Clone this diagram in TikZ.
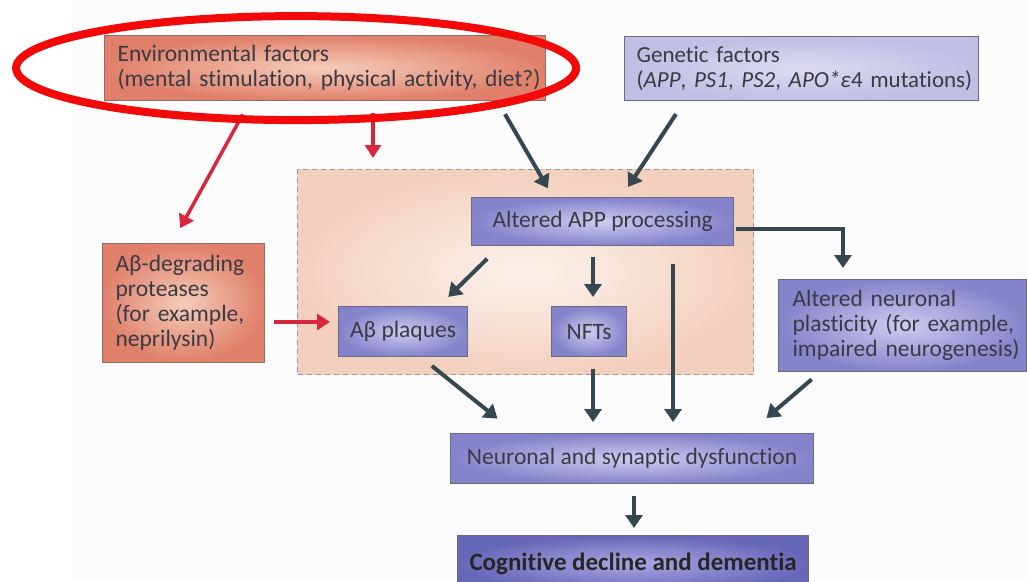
\documentclass[tikz,border=0pt]{standalone}
\usepackage{fontspec}
\setmainfont{Carlito}[Ligatures=NoCommon]
\usetikzlibrary{arrows.meta,calc}
\definecolor{txt}{HTML}{3A3A44}
\definecolor{boxline}{HTML}{6A6A80}
\definecolor{salline}{HTML}{8E6E64}
\definecolor{lavout}{HTML}{8583CA}
\definecolor{lavin}{HTML}{CDCCF0}
\definecolor{genout}{HTML}{C0BEE3}
\definecolor{genin}{HTML}{DCDBF2}
\definecolor{cogout}{HTML}{6866B8}
\definecolor{cogin}{HTML}{AAA8E2}
\definecolor{salout}{HTML}{E0806A}
\definecolor{salin}{HTML}{F5CDBA}
\definecolor{regout}{HTML}{F3D0BE}
\definecolor{regin}{HTML}{FCF2EC}
\definecolor{dark}{HTML}{35474F}
\definecolor{redarr}{HTML}{D7263D}
\definecolor{ellred}{HTML}{F20A0A}
\definecolor{bg}{HTML}{FCFCFC}
\begin{document}
\begin{tikzpicture}[x=1pt,y=-1pt,
  font=\fontsize{23.5}{25}\selectfont,
  box/.style={draw=boxline, line width=1.2pt, anchor=north west, inner sep=0pt, text=txt},
  lav/.style={box, inner color=lavin, outer color=lavout},
  gen/.style={box, inner color=genin, outer color=genout},
  cog/.style={box, inner color=cogin, outer color=cogout},
  sal/.style={box, inner color=salin, outer color=salout, draw=salline},
  region/.style={anchor=north west, inner sep=0pt, draw=gray!80, dashed, dash pattern=on 5pt off 4pt, line width=1.3pt, inner color=regin, outer color=regout},
  darr/.style={draw=dark, line width=4pt, -{Triangle[width=17pt,length=13pt]}},
  rarr/.style={draw=redarr, line width=3.5pt, -{Triangle[width=16pt,length=13pt]}},
  oval/.style={draw=ellred, line width=8pt}
]
\useasboundingbox (0,0) rectangle (1027,581);
\clip (0,0) rectangle (1027,581);
\fill[bg] (72,0) rectangle (1027,581);

% region
\node[region, minimum width=456pt, minimum height=205pt] (reg) at (297,169) {};

% boxes
\node[sal, minimum width=441pt, minimum height=65pt, inner xsep=13pt, text width=415pt, align=left] (env) at (104,35)
  {\mbox{Environmental factors}\\\mbox{(mental stimulation, physical activity, diet?)}};
\node[gen, minimum width=354pt, minimum height=64pt, inner xsep=12pt, text width=330pt, align=left, font=\fontsize{23}{25}\selectfont] (gen) at (624,36)
  {\mbox{Genetic factors}\\\mbox{(\textit{APP}, \textit{PS1}, \textit{PS2}, \textit{APO*ε}4 mutations)}};
\node[sal, minimum width=162pt, minimum height=119pt, inner xsep=13pt, text width=136pt, align=left] (prot) at (102,243)
  {\mbox{Aβ-degrading}\\\mbox{proteases}\\\mbox{(for example,}\\\mbox{neprilysin)}};
\node[lav, minimum width=262pt, minimum height=48pt] (app) at (471,197) {Altered APP processing};
\node[lav, minimum width=129pt, minimum height=50pt] (plaq) at (338,306) {Aβ plaques};
\node[lav, minimum width=75pt, minimum height=50pt] (nft) at (551,306) {NFTs};
\node[lav, minimum width=248pt, minimum height=92pt, inner xsep=14pt, text width=220pt, align=left] (plast) at (778,279)
  {\mbox{Altered neuronal}\\\mbox{plasticity (for example,}\\\mbox{impaired neurogenesis)}};
\node[lav, minimum width=363pt, minimum height=50pt] (dys) at (450,433) {Neuronal and synaptic dysfunction};
\node[cog, minimum width=351pt, minimum height=56pt, font=\fontsize{25}{25}\selectfont\bfseries, text=black!85] (cog) at (457,535) {Cognitive decline and dementia};

% red arrows
\draw[rarr, shorten <=15pt, shorten >=17pt] (250,0 |- env.south) -- (172,0 |- prot.north);
\draw[rarr, shorten <=12pt, shorten >=11pt] (373,0 |- env.south) -- (373,0 |- reg.north);
\draw[rarr, shorten <=9pt, shorten >=8pt] (prot.east |- 0,322) -- (plaq.west |- 0,322);

% dark arrows
\draw[darr, shorten <=15pt, shorten >=10pt] (497.5,0 |- env.south) -- (553,0 |- app.north);
\draw[darr, shorten <=15.5pt, shorten >=12pt] (684.4,0 |- gen.south) -- (621.5,0 |- app.north);
\draw[darr, shorten <=2pt, shorten >=11pt] (app.east |- 0,229) -| (843,0 |- plast.north);
\draw[darr, shorten <=18pt, shorten >=13pt] (500,0 |- app.south) -- (439,0 |- plaq.north);
\draw[darr, shorten <=11pt, shorten >=9pt] (593,0 |- app.south) -- (593,0 |- nft.north);
\draw[darr, shorten <=18pt, shorten >=11pt] (673,0 |- app.south) -- (673,0 |- dys.north);
\draw[darr, shorten <=14pt, shorten >=23pt] (421,0 |- plaq.south) -- (515.4,0 |- dys.north);
\draw[darr, shorten <=12pt, shorten >=11pt] (593,0 |- nft.south) -- (593,0 |- dys.north);
\draw[darr, shorten <=11pt, shorten >=23pt] (820,0 |- plast.south) -- (749,0 |- dys.north);
\draw[darr, shorten <=12pt, shorten >=7pt] (634,0 |- dys.south) -- (634,0 |- cog.north);

% red highlight
\draw[oval] (env.center) ++(-29,0) coordinate (oc) ellipse [x radius=280pt, y radius=52pt];
\end{tikzpicture}
\end{document}
